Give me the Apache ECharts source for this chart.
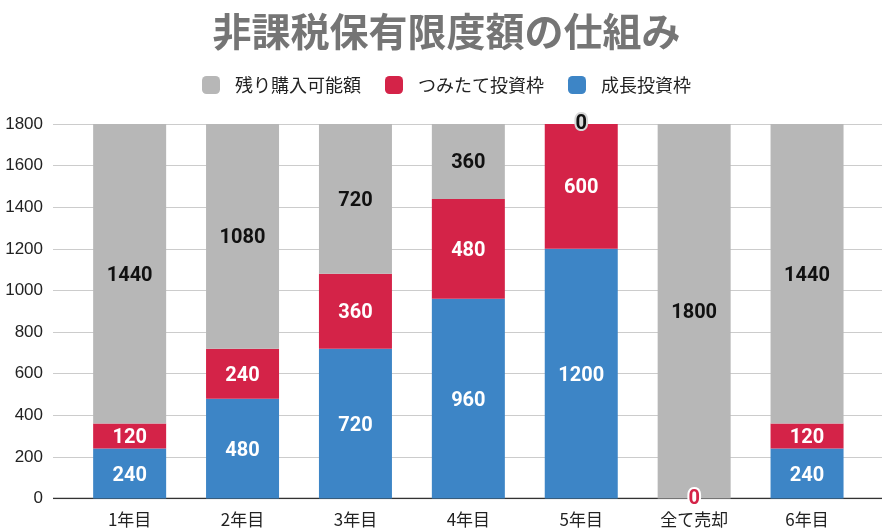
<!DOCTYPE html>
<html><head><meta charset="utf-8">
<script src="https://cdn.jsdelivr.net/npm/echarts@6/dist/echarts.min.js"></script>
<style>html,body{margin:0;padding:0;background:#fff}#c{width:893px;height:532px}</style>
</head><body><div id="c"></div>
<script>
const categories = ['1年目','2年目','3年目','4年目','5年目','全て売却','6年目'];
const growth = [240, 480, 720, 960, 1200, 0, 240];
const tsumitate = [120, 240, 360, 480, 600, 0, 120];
const remaining = [1440, 1080, 720, 360, 0, 1800, 1440];
const yTicks = [0, 200, 400, 600, 800, 1000, 1200, 1400, 1600, 1800];
const names = {rem: '残り購入可能額', tsu: 'つみたて投資枠', gro: '成長投資枠'};
const colors = {rem: '#b7b7b7', tsu: '#d42348', gro: '#3d85c6'};

const chart = echarts.init(document.getElementById('c'));
const numFont = 'Roboto, "Noto Sans", sans-serif';
const jpFont = '"Noto Sans CJK JP", sans-serif';

function mk(vals, zeroStyle) {
  return vals.map(v => {
    if (v !== 0) return v;
    return zeroStyle ? {value: v, label: zeroStyle} : {value: v, label: {show: false}};
  });
}
const baseLabel = {show: true, position: 'inside', fontSize: 20, fontWeight: 'bold', fontFamily: numFont, offset: [0, 2]};

chart.setOption({
  animation: false,
  title: {
    text: '非課税保有限度額の仕組み', left: 'center', top: 7,
    textStyle: {fontSize: 39, fontWeight: 'bold', color: '#757575', fontFamily: jpFont}
  },
  legend: {
    data: [names.rem, names.tsu, names.gro], top: 71, left: 'center',
    itemWidth: 18, itemHeight: 18, itemGap: 24, icon: 'roundRect',
    textStyle: {fontSize: 18, color: '#222', fontFamily: jpFont, padding: [0, 0, 0, 10]}
  },
  grid: [
    {left: 53, right: 11, top: 124, bottom: 33.5},
    {left: 73.2, right: 29.5, top: 124, bottom: 33.5}
  ],
  xAxis: [
    {gridIndex: 0, type: 'value', min: 0, max: 1, show: false},
    {gridIndex: 1, type: 'category', data: categories,
     axisLine: {show: false}, axisTick: {show: false},
     axisLabel: {fontSize: 17, color: '#222', fontFamily: jpFont, margin: 13}}
  ],
  yAxis: [
    {gridIndex: 0, type: 'value', min: 0, max: 1800, interval: 200,
     axisLine: {show: false}, axisTick: {show: false},
     axisLabel: {fontSize: 17, color: '#222', fontFamily: '"Liberation Sans", Arial, sans-serif', margin: 10,
       formatter: v => yTicks.includes(v) ? String(v) : ''},
     splitLine: {lineStyle: {color: '#cccccc', width: 1}}},
    {gridIndex: 1, type: 'value', min: 0, max: 1800, interval: 200, show: false, splitLine: {show: false}}
  ],
  series: [
    {type: 'line', xAxisIndex: 0, yAxisIndex: 0, data: [[0, 0], [1, 0]], symbol: 'none',
     lineStyle: {color: '#333', width: 1.5}, silent: true, z: 1},
    {name: names.gro, type: 'bar', stack: 's', xAxisIndex: 1, yAxisIndex: 1, barWidth: 73,
     itemStyle: {color: colors.gro}, label: Object.assign({}, baseLabel, {color: '#fff'}),
     data: mk(growth, null), z: 2},
    {name: names.tsu, type: 'bar', stack: 's', xAxisIndex: 1, yAxisIndex: 1, barWidth: 73,
     itemStyle: {color: colors.tsu}, label: Object.assign({}, baseLabel, {color: '#fff'}),
     data: mk(tsumitate, {color: colors.tsu, textBorderColor: '#fff', textBorderWidth: 4, offset: [0, 0]}), z: 2},
    {name: names.rem, type: 'bar', stack: 's', xAxisIndex: 1, yAxisIndex: 1, barWidth: 73,
     itemStyle: {color: colors.rem}, label: Object.assign({}, baseLabel, {color: '#111'}),
     data: mk(remaining, {color: '#111', textBorderColor: '#d8d8d8', textBorderWidth: 4, offset: [0, 0]}), z: 2}
  ]
});
</script></body></html>
